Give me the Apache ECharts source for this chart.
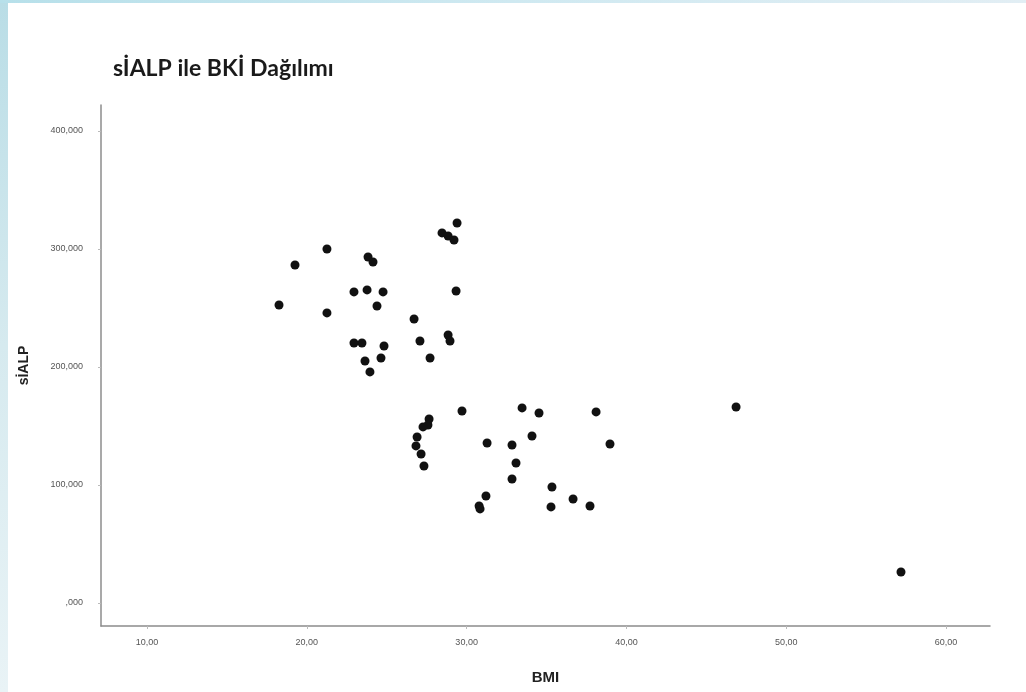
<!DOCTYPE html>
<html>
<head>
<meta charset="utf-8">
<script src="https://cdn.jsdelivr.net/npm/echarts@6/dist/echarts.min.js"></script>
<style>
  html, body { margin: 0; padding: 0; width: 1026px; height: 692px; overflow: hidden; background: #ffffff; }
  #leftStrip { position: absolute; left: 0; top: 0; width: 8px; height: 692px;
    background: linear-gradient(to bottom, #b9dde6 0%, #d6eaef 50%, #e9f3f6 100%); }
  #topStrip { position: absolute; left: 0; top: 0; width: 1026px; height: 3px;
    background: linear-gradient(to right, #b7e0ea 0%, #cfe9f1 50%, #e2eef4 100%); }
  #chart { position: absolute; left: 0; top: 0; width: 1026px; height: 692px; }
</style>
</head>
<body>
<div id="leftStrip"></div>
<div id="topStrip"></div>
<div id="chart"></div>
<script>
// BMI values (x) and sİALP values (y)
const bmi = [18.26, 19.26, 21.26, 21.26, 22.95, 23.77, 23.83, 24.14, 24.77, 24.39,
             22.95, 23.45, 24.83, 24.64, 23.64, 23.95, 26.71, 27.08, 27.71, 28.46,
             28.84, 29.21, 29.40, 29.34, 28.84, 28.96, 29.71, 27.65, 27.58, 27.27,
             26.90, 26.83, 27.15, 27.33, 31.28, 31.21, 30.78, 30.84, 33.47, 34.53,
             38.10, 34.09, 32.84, 38.97, 33.09, 32.84, 35.34, 36.66, 35.28, 37.72,
             46.86, 57.18];
const sialp = [252.5, 286.4, 300.0, 245.8, 263.6, 265.3, 293.2, 289.0, 263.6, 251.7,
               220.3, 220.3, 217.8, 207.6, 205.1, 195.8, 240.7, 222.0, 207.6, 313.6,
               311.0, 307.6, 322.0, 264.4, 227.1, 222.0, 162.7, 155.9, 150.8, 149.2,
               140.7, 133.1, 126.3, 116.1, 135.6, 90.7, 82.2, 79.7, 165.3, 161.0,
               161.9, 141.5, 133.9, 134.7, 118.6, 105.1, 98.3, 88.1, 81.4, 82.2,
               166.1, 26.3];
const xTicks = [10, 20, 30, 40, 50, 60];
const yTicks = [0, 100, 200, 300, 400];
const titleText = 'sİALP ile BKİ Dağılımı';
const xName = 'BMI';
const yName = 'sİALP';

const points = bmi.map((v, i) => [v, sialp[i]]);

const fmtX = v => v.toFixed(2).replace('.', ',');
const fmtY = v => (v === 0 ? ',000' : v.toFixed(3).replace('.', ','));

const chart = echarts.init(document.getElementById('chart'), null, { renderer: 'canvas' });
chart.setOption({
  animation: false,
  title: {
    text: titleText,
    left: 108,
    top: 52,
    textStyle: { fontFamily: 'Lato', fontWeight: 'bold', fontSize: 23, color: '#1a1a1a' }
  },
  grid: { left: 101, top: 105, right: 36, bottom: 66, containLabel: false },
  xAxis: {
    type: 'value',
    min: 7.12,
    max: 62.75,
    name: xName,
    nameLocation: 'middle',
    nameGap: 44,
    nameTextStyle: { fontFamily: 'Arial, Liberation Sans', fontWeight: 'bold', fontSize: 15, color: '#222' },
    axisLine: { show: true, onZero: false, lineStyle: { color: '#8c8c8c', width: 1.5 } },
    axisTick: { show: true, length: 3, customValues: xTicks, lineStyle: { color: '#bbbbbb' } },
    axisLabel: { customValues: xTicks, formatter: fmtX, margin: 12, fontFamily: 'Arial, Liberation Sans', fontSize: 9, color: '#555' },
    splitLine: { show: false }
  },
  yAxis: {
    type: 'value',
    min: -19.5,
    max: 422,
    name: yName,
    nameLocation: 'middle',
    nameGap: 70,
    nameRotate: 90,
    nameTextStyle: { fontFamily: 'Arial, Liberation Sans', fontWeight: 'bold', fontSize: 14, color: '#222' },
    axisLine: { show: true, onZero: false, lineStyle: { color: '#8c8c8c', width: 1.5 } },
    axisTick: { show: true, length: 3, customValues: yTicks, lineStyle: { color: '#bbbbbb' } },
    axisLabel: { customValues: yTicks, formatter: fmtY, margin: 18, fontFamily: 'Arial, Liberation Sans', fontSize: 9, color: '#555' },
    splitLine: { show: false }
  },
  series: [{
    type: 'scatter',
    data: points,
    symbol: 'circle',
    symbolSize: 9,
    itemStyle: { color: '#111111', opacity: 1 }
  }]
});
</script>
</body>
</html>
